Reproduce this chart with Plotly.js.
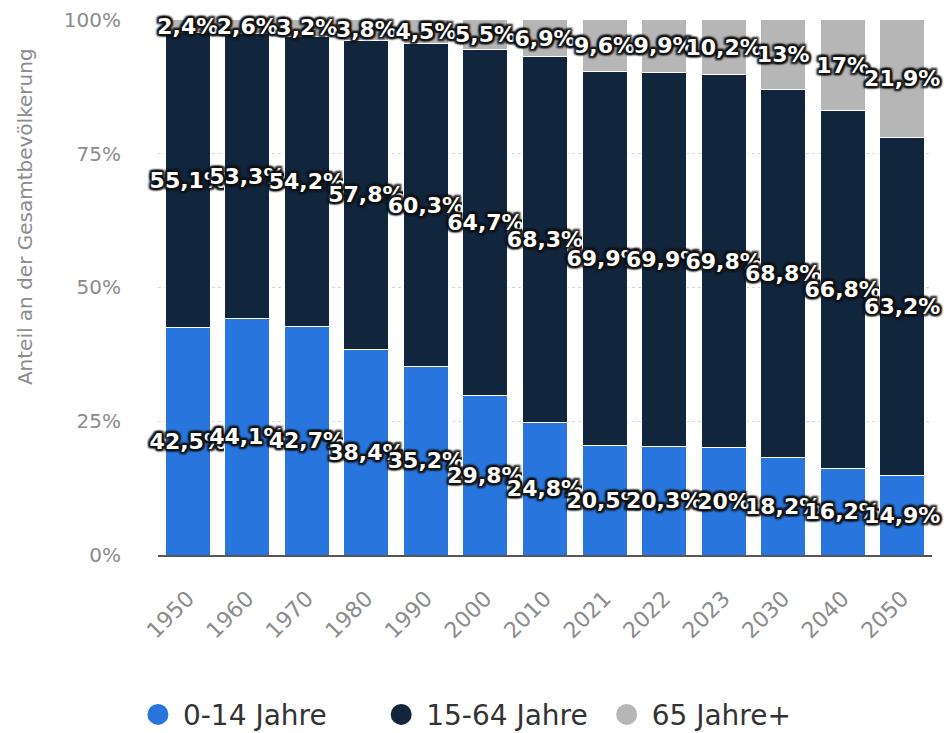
<!DOCTYPE html>
<html>
<head>
<meta charset="utf-8">
<script src="https://cdn.plot.ly/plotly-3.0.1.min.js"></script>
<style>html,body{margin:0;padding:0;background:#fff;}#chart{width:944px;height:733px;}</style>
</head>
<body>
<div id="chart"></div>
<script>
var years = ['1950','1960','1970','1980','1990','2000','2010','2021','2022','2023','2030','2040','2050'];
var young = [42.5, 44.1, 42.7, 38.4, 35.2, 29.8, 24.8, 20.5, 20.3, 20, 18.2, 16.2, 14.9];
var working = [55.1, 53.3, 54.2, 57.8, 60.3, 64.7, 68.3, 69.9, 69.9, 69.8, 68.8, 66.8, 63.2];
var old = [2.4, 2.6, 3.2, 3.8, 4.5, 5.5, 6.9, 9.6, 9.9, 10.2, 13, 17, 21.9];
var seriesNames = ['0-14 Jahre', '15-64 Jahre', '65 Jahre+'];
var colors = ['#2876dd', '#11253d', '#b6b6b6'];
var yTickVals = [0, 25, 50, 75, 100];
var yTickText = ['0%', '25%', '50%', '75%', '100%'];

function fmt(v) { return String(v).replace('.', ',') + '%'; }

var shadow = '2px 2px 2px #111, -2px -2px 2px #111, 2px -2px 2px #111, -2px 2px 2px #111, 0 2px 2px #111, 0 -2px 2px #111, 2px 0 2px #111, -2px 0 2px #111';
var labelFont = {family: 'DejaVu Sans', size: 22, weight: 700, color: '#ffffff', shadow: shadow};

var series = [young, working, old];
var traces = [];
series.forEach(function (vals, i) {
  traces.push({
    type: 'bar',
    x: years,
    y: vals,
    name: seriesNames[i],
    showlegend: false,
    marker: {color: colors[i], line: {color: '#ffffff', width: 1}},
    text: vals.map(fmt),
    textposition: 'inside',
    insidetextanchor: 'middle',
    textangle: 0,
    constraintext: 'none',
    textfont: labelFont,
    cliponaxis: false,
    hoverinfo: 'skip'
  });
});
// legend entries with round markers
var pads = ['\u00a0\u00a0\u00a0\u00a0\u00a0', '\u00a0', ''];
series.forEach(function (vals, i) {
  traces.push({
    type: 'scatter',
    mode: 'markers',
    x: [null],
    y: [null],
    name: seriesNames[i] + pads[i],
    marker: {color: colors[i], size: 16, symbol: 'circle', line: {color: colors[i], width: 5}},
    showlegend: true,
    hoverinfo: 'skip'
  });
});

var layout = {
  width: 944,
  height: 733,
  margin: {l: 158, r: 12, t: 19, b: 178},
  paper_bgcolor: '#ffffff',
  plot_bgcolor: '#ffffff',
  barmode: 'stack',
  bargap: 0.245,
  showlegend: true,
  legend: {
    orientation: 'h',
    xref: 'container', yref: 'container',
    x: 0.492, xanchor: 'center',
    y: 0.025, yanchor: 'middle',
    font: {family: 'DejaVu Sans', size: 28, color: '#333333'},
    itemwidth: 40,
    traceorder: 'normal'
  },
  xaxis: {
    type: 'category',
    automargin: false,
    tickangle: -45,
    tickfont: {family: 'DejaVu Sans', size: 22, color: '#8c8c8c'},
    showgrid: false,
    showline: true,
    linecolor: '#555555',
    linewidth: 2,
    ticks: '',
    ticklabelstandoff: 20
  },
  yaxis: {
    range: [0, 100.15],
    automargin: false,
    tickvals: yTickVals,
    ticktext: yTickText,
    tickfont: {family: 'DejaVu Sans', size: 20, color: '#8c8c8c'},
    showgrid: true,
    gridcolor: '#d8d8d8',
    griddash: 'dot',
    gridwidth: 1,
    zeroline: false,
    showline: false,
    ticks: '',
    ticklabelstandoff: 36
  },
  annotations: [{
    text: 'Anteil an der Gesamtbevölkerung',
    xref: 'paper', yref: 'paper',
    x: -0.172, y: 0.632,
    xanchor: 'center', yanchor: 'middle',
    textangle: -90,
    showarrow: false,
    font: {family: 'DejaVu Sans', size: 20, color: '#8c8c8c'}
  }]
};

Plotly.newPlot('chart', traces, layout, {displayModeBar: false, staticPlot: true});
</script>
</body>
</html>
